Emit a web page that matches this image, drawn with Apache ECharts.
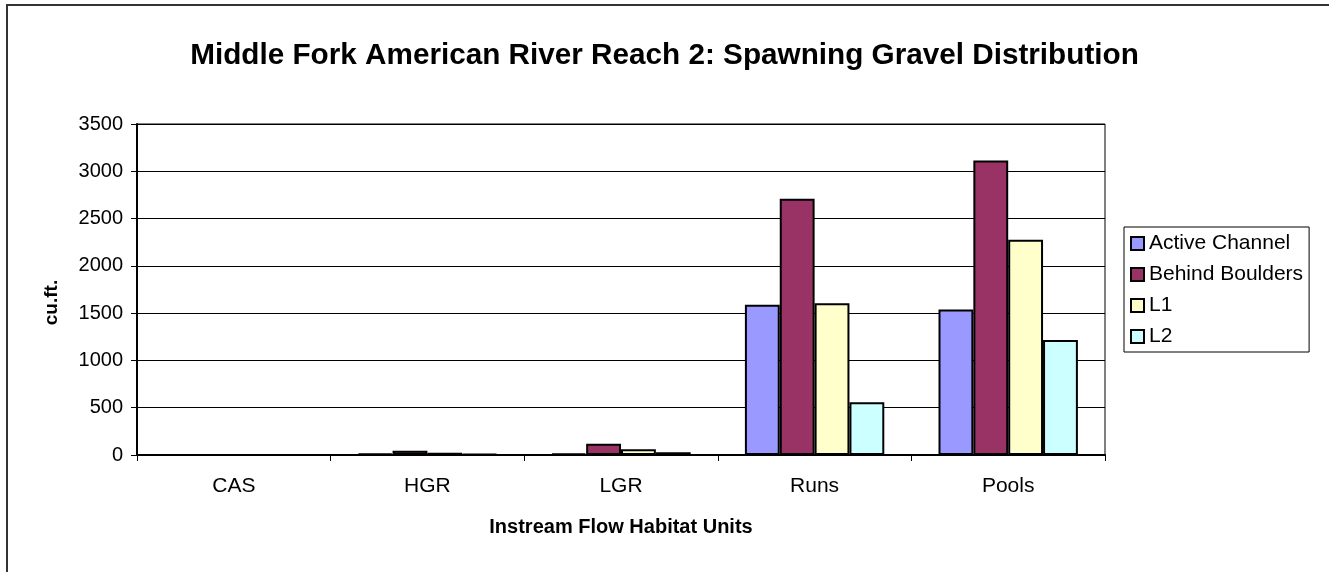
<!DOCTYPE html>
<html>
<head>
<meta charset="utf-8">
<script src="https://cdn.jsdelivr.net/npm/echarts@6/dist/echarts.min.js"></script>
<style>
html,body{margin:0;padding:0;background:#fff;}
#chart{width:1329px;height:572px;}
</style>
</head>
<body>
<div id="chart"></div>
<script>
var categories = ['CAS', 'HGR', 'LGR', 'Runs', 'Pools'];
var activeChannel = [0, 15, 15, 1590, 1538];
var behindBoulders = [0, 45, 120, 2710, 3115];
var l1 = [0, 25, 60, 1605, 2275];
var l2 = [0, 12, 30, 558, 1217];
var seriesNames = ['Active Channel', 'Behind Boulders', 'L1', 'L2'];
var seriesColors = ['#9999FF', '#993366', '#FFFFCC', '#CCFFFF'];
var yTicks = [0, 500, 1000, 1500, 2000, 2500, 3000, 3500];

var font = 'Liberation Sans, Arial, sans-serif';
var chart = echarts.init(document.getElementById('chart'));
var seriesData = [activeChannel, behindBoulders, l1, l2];
var series = seriesData.map(function (d, i) {
  return {
    name: seriesNames[i],
    type: 'bar',
    data: d,
    barGap: '0%',
    barCategoryGap: '28%',
    itemStyle: { color: seriesColors[i], borderColor: '#000', borderWidth: 2 },
    emphasis: { disabled: true }
  };
});

chart.setOption({
  animation: false,
  backgroundColor: '#fff',
  title: {
    text: 'Middle Fork American River Reach 2: Spawning Gravel Distribution',
    left: 'center',
    top: 36,
    textStyle: { fontFamily: font, fontWeight: 'bold', fontSize: 29.7, color: '#000' }
  },
  graphic: [{
    type: 'rect',
    shape: { x: 7, y: 5, width: 1340, height: 600 },
    style: { fill: 'none', stroke: '#333', lineWidth: 2 },
    silent: true
  }],
  legend: {
    orient: 'vertical',
    left: 1124,
    top: 227,
    padding: [6, 6, 5, 6],
    itemWidth: 13,
    itemHeight: 13,
    itemGap: 10,
    borderColor: '#000',
    borderWidth: 1,
    backgroundColor: '#fff',
    selectedMode: false,
    textStyle: { fontFamily: font, fontSize: 21, color: '#000', lineHeight: 20 },
    data: seriesNames.map(function (n) { return { name: n, icon: 'rect' }; })
  },
  grid: {
    left: 137, right: 224, top: 124, bottom: 117,
    show: true, borderColor: '#000', borderWidth: 1
  },
  xAxis: {
    type: 'category',
    data: categories,
    name: 'Instream Flow Habitat Units',
    nameLocation: 'middle',
    nameGap: 62,
    nameTextStyle: { fontFamily: font, fontWeight: 'bold', fontSize: 20, color: '#000' },
    axisLine: { lineStyle: { color: '#000', width: 2 } },
    axisTick: { show: true, alignWithLabel: false, length: 6, lineStyle: { color: '#000' } },
    axisLabel: { fontFamily: font, fontSize: 21, color: '#000', margin: 21 }
  },
  yAxis: {
    type: 'value',
    min: yTicks[0],
    max: yTicks[yTicks.length - 1],
    interval: 500,
    name: 'cu.ft.',
    nameLocation: 'middle',
    nameGap: 76,
    nameRotate: 90,
    nameTextStyle: { fontFamily: font, fontWeight: 'bold', fontSize: 19, color: '#000', padding: [0, 26, 0, 0] },
    axisLine: { show: true, lineStyle: { color: '#000', width: 2 } },
    axisTick: { show: true, inside: false, length: 6, lineStyle: { color: '#000' } },
    axisLabel: { fontFamily: font, fontSize: 20, color: '#000', margin: 14, formatter: function (v) { return String(v); } },
    splitLine: { show: true, lineStyle: { color: '#000', width: 1 } }
  },
  series: series
});
</script>
</body>
</html>
